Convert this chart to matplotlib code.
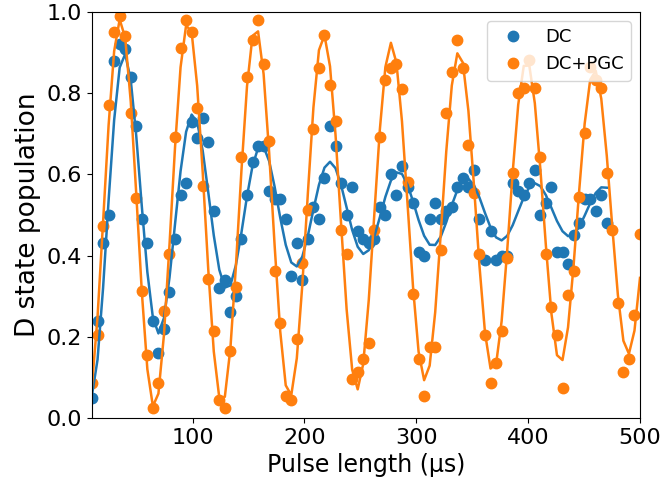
import numpy as np
import matplotlib
matplotlib.use("Agg")
import matplotlib.pyplot as plt

# pulse lengths scanned (us), evenly spaced
pulse_us = np.linspace(10, 500, 100)

# D state population, DC cooling only (scan stopped after 94 points)
pop_dc = [0.05, 0.24, 0.43, 0.50, 0.88, 0.92, 0.91, 0.84, 0.72, 0.49,
          0.43, 0.24, 0.16, 0.22, 0.31, 0.44, 0.55, 0.58, 0.73, 0.69,
          0.74, 0.68, 0.51, 0.32, 0.34, 0.26, 0.30, 0.44, 0.55, 0.63,
          0.67, 0.67, 0.56, 0.54, 0.54, 0.49, 0.35, 0.43, 0.34, 0.44,
          0.52, 0.49, 0.59, 0.72, 0.67, 0.58, 0.50, 0.57, 0.46, 0.44,
          0.43, 0.44, 0.52, 0.50, 0.60, 0.55, 0.62, 0.57, 0.53, 0.41,
          0.40, 0.49, 0.53, 0.49, 0.51, 0.52, 0.57, 0.59, 0.57, 0.61,
          0.49, 0.39, 0.46, 0.39, 0.40, 0.40, 0.58, 0.56, 0.55, 0.58,
          0.61, 0.50, 0.53, 0.57, 0.41, 0.41, 0.38, 0.45, 0.48, 0.54,
          0.54, 0.51, 0.55, 0.48]

# D state population, DC + PGC cooling
pop_pgc = [0.085, 0.204, 0.473, 0.772, 0.951, 0.991, 0.941, 0.752, 0.543,
           0.314, 0.155, 0.024, 0.085, 0.264, 0.403, 0.692, 0.911, 0.980, 0.951,
           0.763, 0.572, 0.343, 0.214, 0.044, 0.024, 0.165, 0.323, 0.643, 0.841,
           0.931, 0.980, 0.872, 0.682, 0.363, 0.233, 0.054, 0.044, 0.194, 0.383,
           0.512, 0.713, 0.861, 0.943, 0.820, 0.732, 0.463, 0.404, 0.095, 0.114,
           0.145, 0.184, 0.463, 0.693, 0.832, 0.861, 0.872, 0.811, 0.582, 0.305,
           0.145, 0.055, 0.175, 0.175, 0.414, 0.752, 0.851, 0.931, 0.861, 0.672,
           0.553, 0.404, 0.204, 0.085, 0.135, 0.214, 0.393, 0.603, 0.801, 0.812,
           0.882, 0.812, 0.644, 0.404, 0.274, 0.204, 0.075, 0.303, 0.363, 0.544,
           0.703, 0.865, 0.833, 0.812, 0.603, 0.463, 0.284, 0.114, 0.145, 0.254, 0.453]


def rabi(x, p):
    # damped Rabi flop: offset, amplitude, period, phase, decay time
    c, a, period, phi, tau = p
    return c + a * np.cos(2 * np.pi * x / period + phi) / np.sqrt(1 + (x / tau) ** 2)


def fit_rabi(x, y, p0, n_iter=300):
    # small Levenberg-Marquardt loop, numpy only
    x = np.asarray(x, float)
    y = np.asarray(y, float)
    p = np.array(p0, float)
    lam = 1e-3
    r = rabi(x, p) - y
    cost = r @ r
    for _ in range(n_iter):
        J = np.empty((len(x), len(p)))
        for j in range(len(p)):
            dp = np.zeros_like(p)
            dp[j] = 1e-6 * max(1.0, abs(p[j]))
            J[:, j] = (rabi(x, p + dp) - y - r) / dp[j]
        H = J.T @ J
        g = J.T @ r
        try:
            step = np.linalg.solve(H + lam * np.diag(np.diag(H)), -g)
        except np.linalg.LinAlgError:
            lam *= 10
            continue
        r_new = rabi(x, p + step) - y
        c_new = r_new @ r_new
        if c_new < cost:
            p = p + step
            r = r_new
            cost = c_new
            lam *= 0.3
        else:
            lam *= 10
    return p


x_dc = pulse_us[:len(pop_dc)]
p_dc = fit_rabi(x_dc, pop_dc, [0.5, -0.45, 61.0, 0.0, 60.0])
p_pgc = fit_rabi(pulse_us, pop_pgc, [0.5, -0.48, 61.0, 0.0, 800.0])

fig = plt.figure(figsize=(6.63, 4.86), dpi=100)
ax = fig.add_axes([92 / 663, 1 - 418 / 486, (640 - 92) / 663, (418 - 12) / 486])

ax.plot(x_dc, pop_dc, 'o', color='C0', ms=7.5, label='DC')
ax.plot(pulse_us, pop_pgc, 'o', color='C1', ms=7.5, label='DC+PGC')
ax.plot(x_dc, rabi(x_dc, p_dc), '-', color='C0', lw=1.8)
ax.plot(pulse_us, rabi(pulse_us, p_pgc), '-', color='C1', lw=1.8)

ax.set_xlim(10, 500)
ax.set_ylim(0, 1)
ax.set_xticks([100, 200, 300, 400, 500])
ax.set_yticks([0.0, 0.2, 0.4, 0.6, 0.8, 1.0])
ax.tick_params(labelsize=16)
ax.set_xlabel('Pulse length (μs)', fontsize=17)
ax.set_ylabel('D state population', fontsize=19)
ax.legend(loc='upper right', fontsize=13)

fig.savefig('out.png', dpi=100)
